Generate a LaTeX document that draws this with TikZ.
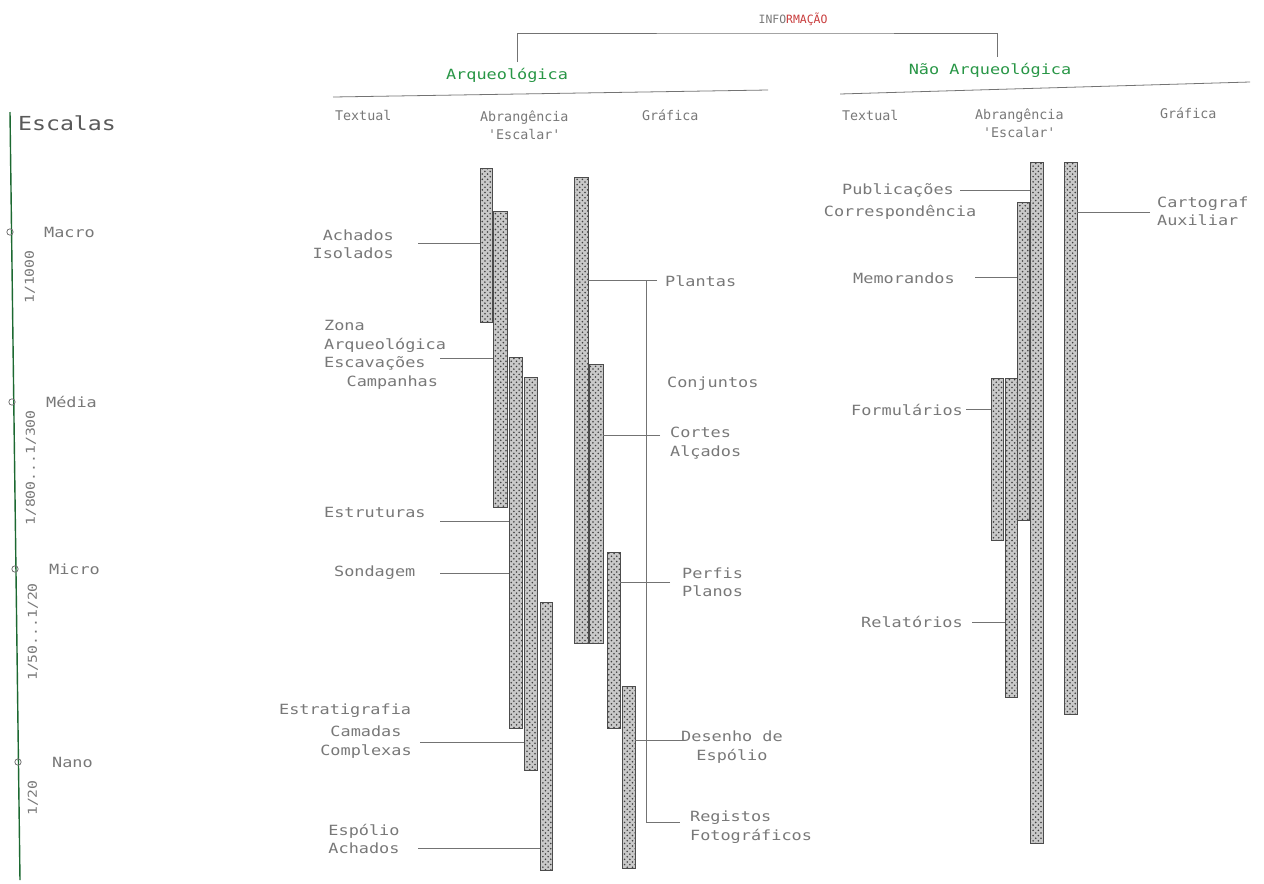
\documentclass[tikz,border=0pt]{standalone}
\usepackage{fontspec}
\newfontfamily\cadfont[FakeStretch=1.2]{DejaVu Sans Mono}
\newfontfamily\cadfontb{DejaVu Sans Mono}
\usetikzlibrary{patterns}
\definecolor{verde}{RGB}{40,150,70}
\definecolor{tinta}{RGB}{120,120,120}
\definecolor{vermelho}{RGB}{200,60,60}

\begin{document}
\begin{tikzpicture}[x=0.02cm, y=-0.02cm,
    rotulo/.style={font=\cadfont\fontsize{8}{10.5}\selectfont, text=tinta, inner sep=1pt},
    coluna/.style={rotulo, font=\cadfontb\fontsize{7.6}{10.5}\selectfont},
    titulo/.style={rotulo, text=verde},
    barra/.style={draw=black!70, line width=0.45pt, inner sep=0pt, outer sep=0pt,
        anchor=north west, preaction={fill=gray!42}, pattern=crosshatch dots,
        pattern color=black!75},
    fio/.style={draw=black!55, line width=0.45pt}]

    \useasboundingbox (0,0) rectangle (1264,883);

    % cabecalho
    \node[rotulo, font=\cadfontb\fontsize{6.5}{8}\selectfont] (info) at (793,19)
        {INFO\textcolor{vermelho}{RMAÇÃO}};
    \node[titulo] (arq) at (507,75) {Arqueológica};
    \node[titulo] (nao) at (990,70) {Não Arqueológica};
    \coordinate (arq-t) at (517,62);
    \coordinate (nao-t) at (997,57);
    \draw[fio] (arq-t) |- (info.south |- 0,33) -| (nao-t);
    \draw[fio] (333,97) -- (768,90);
    \draw[fio] (840,94) -- (1250,82);

    \node[coluna, anchor=west] (txt-a) at (333,115) {Textual};
    \node[coluna, anchor=west, align=center] (abr-a) at (478,125) {Abrangência\\'Escalar'};
    \node[coluna, anchor=west] (gra-a) at (640,115) {Gráfica};
    \node[coluna, anchor=west] (txt-n) at (840,115) {Textual};
    \node[coluna, anchor=west, align=center] (abr-n) at (973,123) {Abrangência\\'Escalar'};
    \node[coluna, anchor=west] (gra-n) at (1158,113) {Gráfica};

    % escalas
    \draw[draw=verde!70!black, line width=0.8pt] (10,112) -- (20,880);
    \node[rotulo, font=\cadfont\fontsize{11}{13}\selectfont, text=black!65] (escalas) at (67,123) {Escalas};
    \foreach \nm/\tx/\ty/\lab in {macro/10/232/Macro, media/12/402/Média,
        micro/15/569/Micro, nano/18/762/Nano} {
        \draw[fio] (\tx,\ty) circle (1.8pt);
        \node[rotulo, anchor=west] (\nm) at (\tx+32,\ty) {\lab};
    }
    \node[rotulo, rotate=90, font=\cadfont\fontsize{7}{8}\selectfont] (r-macro) at (30,277) {1/1000};
    \node[rotulo, rotate=90, font=\cadfont\fontsize{7}{8}\selectfont] (r-media) at (31,468) {1/800...1/300};
    \node[rotulo, rotate=90, font=\cadfont\fontsize{7}{8}\selectfont] (r-micro) at (33,632) {1/50...1/20};
    \node[rotulo, rotate=90, font=\cadfont\fontsize{7}{8}\selectfont] (r-nano) at (33,798) {1/20};

    % barras
    \foreach \nm/\xa/\ya/\xb/\yb in {
        b1/480/168/492/322, b2/493/211/507/507, b3/509/357/522/728,
        b4/524/377/537/770, b5/540/602/552/870,
        g1/574/177/588/643, g2/589/364/603/643, g3/607/552/620/728,
        g4/622/686/635/868,
        n4/991/378/1003/540, n5/1005/378/1017/697, n2/1017/202/1029/520,
        n1/1030/162/1043/843, n3/1064/162/1077/714
    } {
        \pgfmathsetmacro\bw{(\xb-\xa)*0.02}
        \pgfmathsetmacro\bh{(\yb-\ya)*0.02}
        \node[barra, minimum width=\bw cm, minimum height=\bh cm] (\nm) at (\xa,\ya) {};
    }

    % arqueologica - textual
    \node[rotulo, anchor=east, align=right] (achados) at (396,244) {Achados\\Isolados};
    \node[rotulo, anchor=west, align=left] (zona) at (322,355)
        {Zona\\Arqueológica\\Escavações\\\hspace*{1.6em}Campanhas};
    \node[rotulo, anchor=west] (estruturas) at (322,512) {Estruturas};
    \node[rotulo, anchor=west] (sondagem) at (332,573) {Sondagem};
    \node[rotulo, anchor=west] (estratigrafia) at (277,711) {Estratigrafia};
    \node[rotulo, align=center] (camadas) at (366,742) {Camadas\\Complexas};
    \node[rotulo, align=center] (espolio) at (364,839) {Espólio\\Achados};

    \coordinate (achados-a) at (418,243);
    \coordinate (zona-a) at (440,358);
    \coordinate (estruturas-a) at (440,521);
    \coordinate (sondagem-a) at (440,573);
    \coordinate (camadas-a) at (420,742);
    \coordinate (espolio-a) at (418,848);
    \draw[fio] (achados-a) -- (achados-a -| b1.west);
    \draw[fio] (zona-a) -- (zona-a -| b2.west);
    \draw[fio] (estruturas-a) -- (estruturas-a -| b3.west);
    \draw[fio] (sondagem-a) -- (sondagem-a -| b3.west);
    \draw[fio] (camadas-a) -- (camadas-a -| b4.west);
    \draw[fio] (espolio-a) -- (espolio-a -| b5.west);

    % arqueologica - grafica
    \node[rotulo, anchor=west] (plantas) at (663,281) {Plantas};
    \node[rotulo, anchor=west] (conjuntos) at (665,384) {Conjuntos};
    \node[rotulo, anchor=west, align=left] (cortes) at (668,443) {Cortes\\Alçados};
    \node[rotulo, anchor=west, align=left] (perfis) at (680,582) {Perfis\\Planos};
    \node[rotulo, align=center] (desenho) at (732,747) {Desenho de\\Espólio};
    \node[rotulo, anchor=west, align=left] (registos) at (688,827) {Registos\\Fotográficos};

    \coordinate (plantas-a) at (657,280);
    \coordinate (cortes-a) at (660,435);
    \coordinate (perfis-a) at (670,582);
    \coordinate (desenho-a) at (685,740);
    \coordinate (registos-a) at (680,822);
    \coordinate (nodo) at (646,280);
    \draw[fio] (plantas-a) -- (plantas-a -| g1.east);
    \draw[fio] (nodo) |- (registos-a);
    \draw[fio] (cortes-a) -- (cortes-a -| g2.east);
    \draw[fio] (perfis-a) -- (perfis-a -| g3.east);
    \draw[fio] (desenho-a) -- (desenho-a -| g4.east);

    % nao arqueologica
    \node[rotulo] (publicacoes) at (898,190) {Publicações};
    \node[rotulo] (correspondencia) at (900,212) {Correspondência};
    \node[rotulo] (memorandos) at (904,278) {Memorandos};
    \node[rotulo] (formularios) at (907,410) {Formulários};
    \node[rotulo] (relatorios) at (912,622) {Relatórios};
    \node[rotulo, anchor=west, align=left] (cartograf) at (1155,211) {Cartograf\\Auxiliar};

    \coordinate (publicacoes-a) at (960,190);
    \coordinate (memorandos-a) at (975,277);
    \coordinate (formularios-a) at (966,409);
    \coordinate (relatorios-a) at (972,622);
    \coordinate (cartograf-a) at (1150,212);
    \draw[fio] (publicacoes-a) -- (publicacoes-a -| n1.west);
    \draw[fio] (memorandos-a) -- (memorandos-a -| n2.west);
    \draw[fio] (formularios-a) -- (formularios-a -| n4.west);
    \draw[fio] (relatorios-a) -- (relatorios-a -| n5.west);
    \draw[fio] (cartograf-a) -- (cartograf-a -| n3.east);
\end{tikzpicture}
\end{document}
